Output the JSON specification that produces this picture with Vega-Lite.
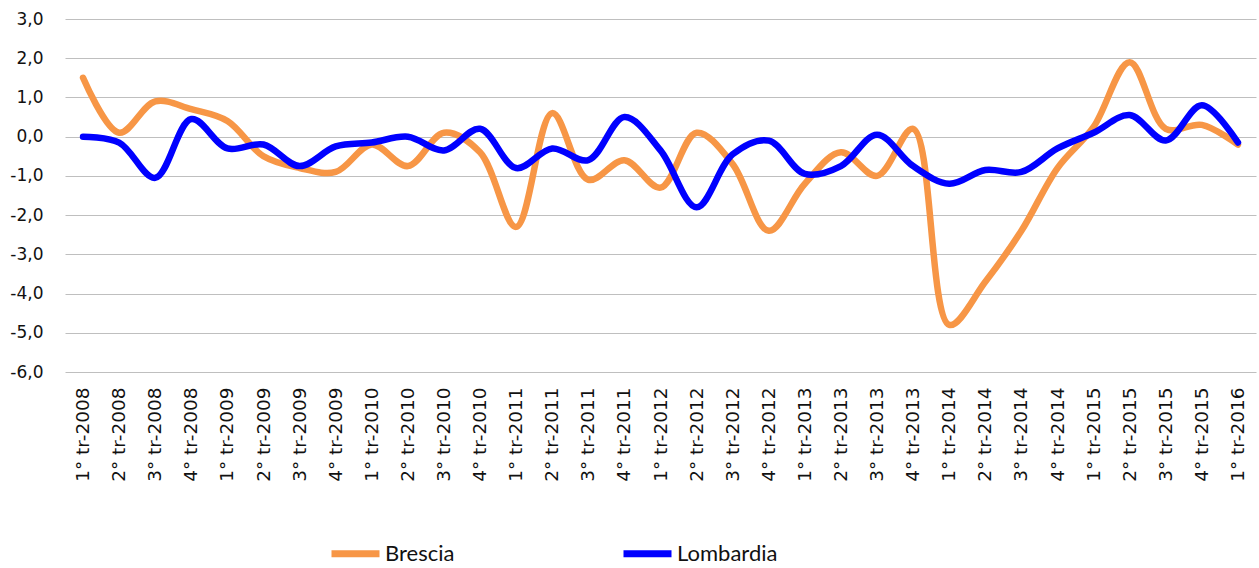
{
  "$schema": "https://vega.github.io/schema/vega-lite/v6.json",
  "width": 1191,
  "height": 353,
  "autosize": {"type": "none"},
  "padding": {"left": 65, "top": 19, "right": 3, "bottom": 196},
  "background": "white",
  "config": {
    "locale": {"number": {"decimal": ",", "thousands": ".", "grouping": [3], "currency": ["€", ""], "minus": "-"}},
    "view": {"stroke": null},
    "font": "DejaVu Sans",
    "axisY": {"values": [-6, -5, -4, -3, -2, -1, 0, 1, 2, 3], "labelOverlap": false, "format": ".1f", "labelFontSize": 17, "labelColor": "#111111", "labelPadding": 22, "ticks": false, "domain": false, "grid": true, "gridColor": "#bfbfbf", "gridWidth": 1.2, "labelFont": "DejaVu Sans", "title": null}
  },
  "datasets": {
    "serie": [
      {"q": "1° tr-2008", "s": "Brescia", "v": 1.5}, {"q": "2° tr-2008", "s": "Brescia", "v": 0.1}, {"q": "3° tr-2008", "s": "Brescia", "v": 0.9}, {"q": "4° tr-2008", "s": "Brescia", "v": 0.7},
      {"q": "1° tr-2009", "s": "Brescia", "v": 0.4}, {"q": "2° tr-2009", "s": "Brescia", "v": -0.5}, {"q": "3° tr-2009", "s": "Brescia", "v": -0.8}, {"q": "4° tr-2009", "s": "Brescia", "v": -0.9},
      {"q": "1° tr-2010", "s": "Brescia", "v": -0.2}, {"q": "2° tr-2010", "s": "Brescia", "v": -0.75}, {"q": "3° tr-2010", "s": "Brescia", "v": 0.1}, {"q": "4° tr-2010", "s": "Brescia", "v": -0.4},
      {"q": "1° tr-2011", "s": "Brescia", "v": -2.3}, {"q": "2° tr-2011", "s": "Brescia", "v": 0.6}, {"q": "3° tr-2011", "s": "Brescia", "v": -1.1}, {"q": "4° tr-2011", "s": "Brescia", "v": -0.6},
      {"q": "1° tr-2012", "s": "Brescia", "v": -1.3}, {"q": "2° tr-2012", "s": "Brescia", "v": 0.1}, {"q": "3° tr-2012", "s": "Brescia", "v": -0.7}, {"q": "4° tr-2012", "s": "Brescia", "v": -2.4},
      {"q": "1° tr-2013", "s": "Brescia", "v": -1.2}, {"q": "2° tr-2013", "s": "Brescia", "v": -0.4}, {"q": "3° tr-2013", "s": "Brescia", "v": -1.0}, {"q": "4° tr-2013", "s": "Brescia", "v": 0.2},
      {"q": "1° tr-2014", "s": "Brescia", "v": -4.8}, {"q": "2° tr-2014", "s": "Brescia", "v": -3.7}, {"q": "3° tr-2014", "s": "Brescia", "v": -2.4}, {"q": "4° tr-2014", "s": "Brescia", "v": -0.8},
      {"q": "1° tr-2015", "s": "Brescia", "v": 0.25}, {"q": "2° tr-2015", "s": "Brescia", "v": 1.9}, {"q": "3° tr-2015", "s": "Brescia", "v": 0.2}, {"q": "4° tr-2015", "s": "Brescia", "v": 0.3},
      {"q": "1° tr-2016", "s": "Brescia", "v": -0.2},
      {"q": "1° tr-2008", "s": "Lombardia", "v": 0.0}, {"q": "2° tr-2008", "s": "Lombardia", "v": -0.15}, {"q": "3° tr-2008", "s": "Lombardia", "v": -1.05}, {"q": "4° tr-2008", "s": "Lombardia", "v": 0.45},
      {"q": "1° tr-2009", "s": "Lombardia", "v": -0.3}, {"q": "2° tr-2009", "s": "Lombardia", "v": -0.2}, {"q": "3° tr-2009", "s": "Lombardia", "v": -0.75}, {"q": "4° tr-2009", "s": "Lombardia", "v": -0.25},
      {"q": "1° tr-2010", "s": "Lombardia", "v": -0.15}, {"q": "2° tr-2010", "s": "Lombardia", "v": 0.0}, {"q": "3° tr-2010", "s": "Lombardia", "v": -0.35}, {"q": "4° tr-2010", "s": "Lombardia", "v": 0.2},
      {"q": "1° tr-2011", "s": "Lombardia", "v": -0.8}, {"q": "2° tr-2011", "s": "Lombardia", "v": -0.3}, {"q": "3° tr-2011", "s": "Lombardia", "v": -0.6}, {"q": "4° tr-2011", "s": "Lombardia", "v": 0.5},
      {"q": "1° tr-2012", "s": "Lombardia", "v": -0.35}, {"q": "2° tr-2012", "s": "Lombardia", "v": -1.8}, {"q": "3° tr-2012", "s": "Lombardia", "v": -0.45}, {"q": "4° tr-2012", "s": "Lombardia", "v": -0.1},
      {"q": "1° tr-2013", "s": "Lombardia", "v": -0.95}, {"q": "2° tr-2013", "s": "Lombardia", "v": -0.75}, {"q": "3° tr-2013", "s": "Lombardia", "v": 0.05}, {"q": "4° tr-2013", "s": "Lombardia", "v": -0.75},
      {"q": "1° tr-2014", "s": "Lombardia", "v": -1.2}, {"q": "2° tr-2014", "s": "Lombardia", "v": -0.85}, {"q": "3° tr-2014", "s": "Lombardia", "v": -0.9}, {"q": "4° tr-2014", "s": "Lombardia", "v": -0.3},
      {"q": "1° tr-2015", "s": "Lombardia", "v": 0.1}, {"q": "2° tr-2015", "s": "Lombardia", "v": 0.55}, {"q": "3° tr-2015", "s": "Lombardia", "v": -0.1}, {"q": "4° tr-2015", "s": "Lombardia", "v": 0.8},
      {"q": "1° tr-2016", "s": "Lombardia", "v": -0.15}
    ]
  },
  "layer": [
    {
      "data": {"name": "serie"},
      "mark": {"type": "line", "interpolate": "catmull-rom", "strokeWidth": 6.5, "strokeCap": "round", "strokeJoin": "round"},
      "encoding": {
        "x": {
          "field": "q", "type": "ordinal", "sort": null,
          "scale": {"type": "band", "paddingInner": 0, "paddingOuter": 0},
          "axis": {"title": null, "labelAngle": -90, "labelFontSize": 18.5, "labelColor": "#111111", "labelPadding": 15, "ticks": false, "domain": false, "grid": false, "labelFont": "DejaVu Sans"}
        },
        "y": {
          "field": "v", "type": "quantitative",
          "scale": {"domain": [-6, 3], "nice": false, "zero": false},
          "axis": {"title": null, "values": [-6, -5, -4, -3, -2, -1, 0, 1, 2, 3], "labelOverlap": false}
        },
        "color": {
          "field": "s", "type": "nominal",
          "scale": {"domain": ["Brescia", "Lombardia"], "range": ["#F79646", "#0000FF"]},
          "legend": {
            "title": null, "orient": "none", "direction": "horizontal", "legendX": 263, "legendY": 507,
            "padding": 0, "symbolType": "stroke", "symbolSize": 2304, "symbolStrokeWidth": 7,
            "labelFont": "Lato", "labelFontSize": 22, "labelColor": "#111111", "labelOffset": 2, "columnPadding": 154
          }
        }
      }
    },
    {
      "mark": {"type": "rule", "color": "black", "strokeWidth": 1.5},
      "encoding": {"y": {"datum": 0, "axis": {"title": null, "values": [-6, -5, -4, -3, -2, -1, 0, 1, 2, 3], "labelOverlap": false}}}
    }
  ]
}
